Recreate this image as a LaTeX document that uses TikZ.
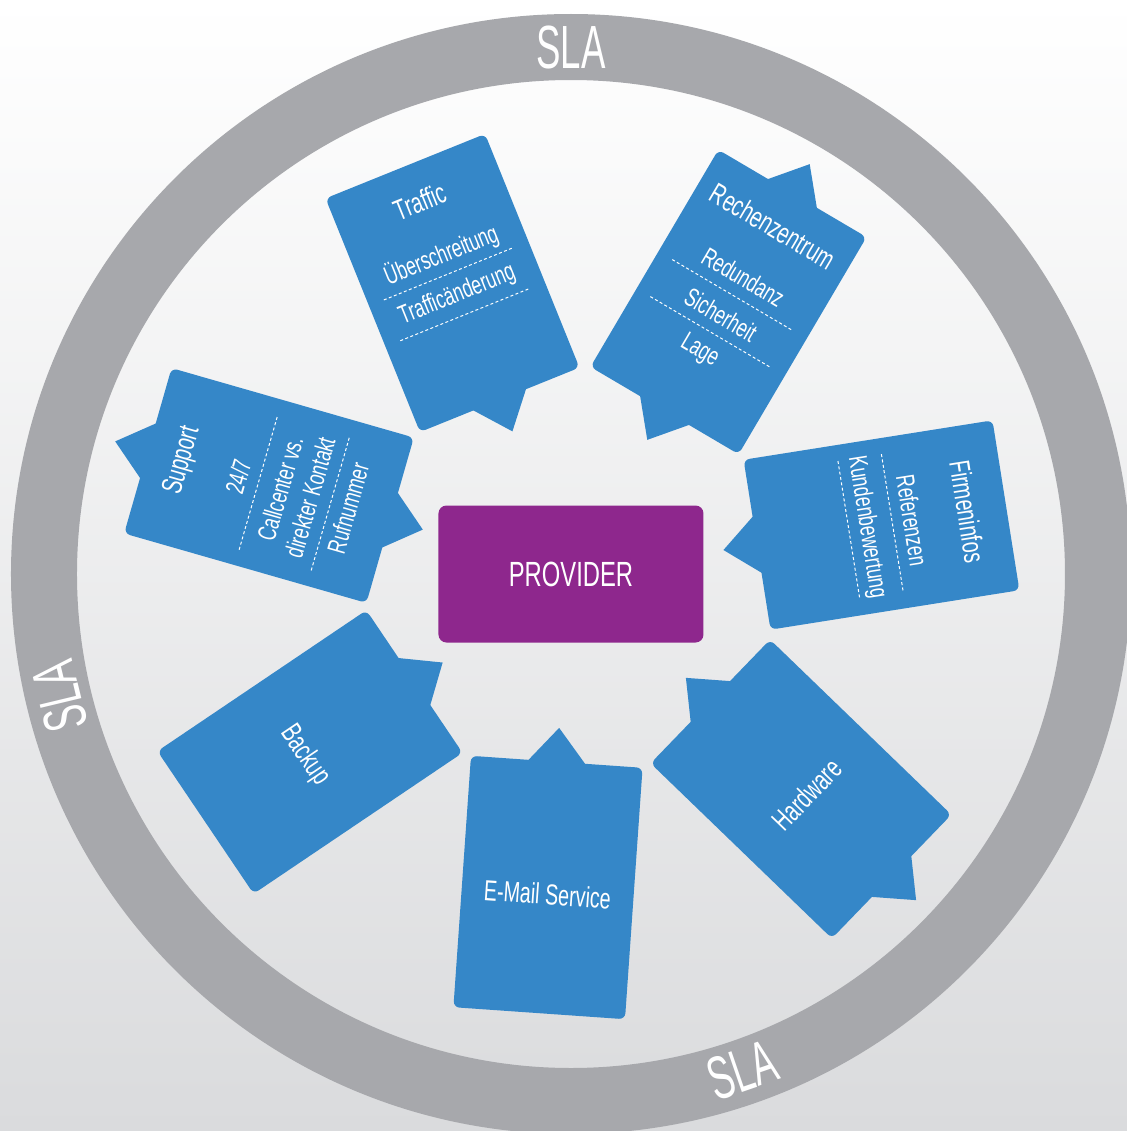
\documentclass[tikz,border=0pt]{standalone}
\usepackage{fontspec}
\newfontfamily\condfont[FakeStretch=0.68]{Liberation Sans}
\newfontfamily\slafont[FakeStretch=0.6]{Liberation Sans}
\definecolor{slagray}{RGB}{167,168,172}
\definecolor{cardblue}{RGB}{53,135,200}
\definecolor{provpurple}{RGB}{142,39,141}
\definecolor{bgbottom}{RGB}{218,219,221}

% card body and the little pointers on its short sides
\newcommand{\cardbody}{\fill[cd, rounded corners=3pt] (-86,-126) rectangle (86,126);}
\newcommand{\tabtop}{\fill[cd] (-30,124) -- (0,160) -- (30,124) -- cycle;}
\newcommand{\tabbot}{\fill[cd] (-30,-124) -- (0,-160) -- (30,-124) -- cycle;}

\begin{document}
\begin{tikzpicture}[x=0.5pt, y=0.5pt,
    cd/.style={fill=cardblue},
    hd/.style={text=white, font=\condfont\fontsize{14.5}{17}\selectfont,
               transform shape, inner sep=0pt},
    it/.style={text=white, font=\condfont\fontsize{13}{15.5}\selectfont,
               transform shape, inner sep=0pt, align=center},
    dl/.style={white, line width=0.5pt, dash pattern=on 1.5pt off 1.2pt},
    pv/.style={fill=provpurple, text=white, rounded corners=4pt,
               minimum width=132.5pt, minimum height=68.5pt,
               font=\condfont\fontsize{17.5}{20}\selectfont},
    sla/.style={text=white, font=\slafont\fontsize{30.5}{32}\selectfont,
                transform shape, inner sep=0pt}]

  \clip (-571,-557) rectangle (556,574);
  \shade[top color=white, bottom color=bgbottom] (-571,-557) rectangle (556,574);

  % SLA ring
  \draw[slagray, line width=33pt] (0,0) circle (527);
  \node[sla] (slatop) at (90:526) {SLA};
  \node[sla, rotate=103.5] (slaleft) at (193.5:526) {SLA};
  \node[sla, rotate=19] (slabot) at (-71:525) {SLA};

  \node[pv] (provider) at (0,0) {PROVIDER};

  % Traffic
  \begin{scope}[shift={(-118.5,291)}, rotate=22]
    \cardbody \tabbot
    \node[hd] (traffic) at (0,88) {Traffic};
    \node[it] (ueber) at (0,30) {Überschreitung};
    \draw[dl] (-70,10) -- (70,10);
    \node[it] (tchange) at (0,-13) {Trafficänderung};
    \draw[dl] (-70,-34) -- (70,-34);
  \end{scope}

  % Rechenzentrum
  \begin{scope}[shift={(157.5,272)}, rotate=-30.5]
    \cardbody \tabtop \tabbot
    \node[hd] (rz) at (0,88) {Rechenzentrum};
    \node[it] (redund) at (0,29) {Redundanz};
    \draw[dl] (-70,8) -- (70,8);
    \node[it] (sicher) at (0,-15) {Sicherheit};
    \draw[dl] (-70,-35) -- (70,-35);
    \node[it] (lage) at (0,-57) {Lage};
  \end{scope}

  % Support
  \begin{scope}[shift={(-302,88.5)}, rotate=74]
    \cardbody \tabtop \tabbot
    \node[hd] (support) at (0,90) {Support};
    \node[it] (h247) at (0,32) {24/7};
    \draw[dl] (-70,11) -- (70,11);
    \node[it] (callc) at (0,-27) {Callcenter vs.\\direkter Kontakt};
    \draw[dl] (-70,-64) -- (70,-64);
    \node[it] (rufnr) at (0,-82) {Rufnummer};
  \end{scope}

  % Firmeninfos
  \begin{scope}[shift={(310.5,49)}, rotate=-81]
    \cardbody \tabbot
    \node[hd] (firm) at (0,87) {Firmeninfos};
    \node[it] (refs) at (0,31) {Referenzen};
    \draw[dl] (-70,11) -- (70,11);
    \node[it] (kbew) at (0,-15) {Kundenbewertung};
    \draw[dl] (-70,-33) -- (70,-33);
  \end{scope}

  % Backup
  \begin{scope}[shift={(-261,-178)}, rotate=-56]
    \cardbody \tabtop
    \node[hd] (backup) at (0,-6) {Backup};
  \end{scope}

  % E-Mail Service
  \begin{scope}[shift={(-23,-313.5)}, rotate=-4]
    \cardbody \tabtop
    \node[hd] (email) at (0,-7) {E-Mail Service};
  \end{scope}

  % Hardware
  \begin{scope}[shift={(230,-215)}, rotate=46]
    \cardbody \tabtop \tabbot
    \node[hd] (hardware) at (0,-8) {Hardware};
  \end{scope}
\end{tikzpicture}
\end{document}
